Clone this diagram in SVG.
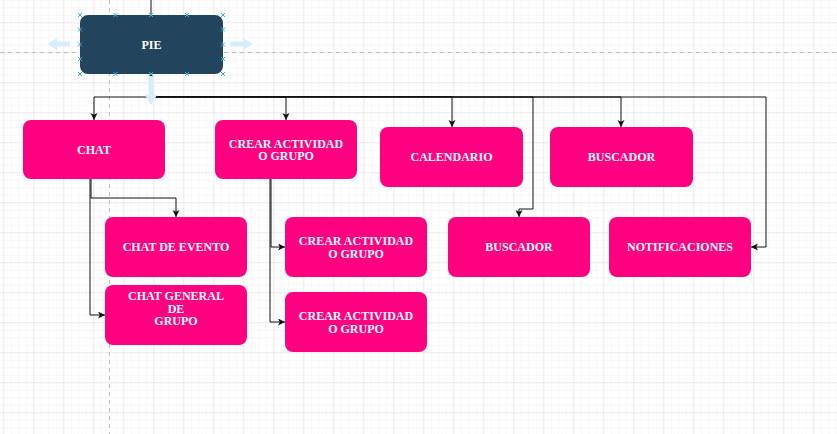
<svg xmlns="http://www.w3.org/2000/svg" width="837" height="434" viewBox="0 0 837 434">
  <style>
    .node { fill: #FF0080; }
    .pie { fill: #23445D; }
    .lbl { font-family: "Liberation Serif", "Times New Roman", serif; font-weight: bold; font-size: 12px; fill: #FFFFFF; text-anchor: middle; }
    .edge { fill: none; stroke: #111111; stroke-width: 1; }
    .sel { stroke: #29B6F2; stroke-width: 1; fill: none; }
    .hint { fill: #D6EEFC; }
  </style>
  <defs>
    <pattern id="minor" patternUnits="userSpaceOnUse" x="3.3" y="22.3" width="7.5" height="7.5">
      <path d="M0,0 H7.5 M0,0 V7.5" stroke="#F0F0F0" stroke-width="1" fill="none"/>
    </pattern>
    <pattern id="major" patternUnits="userSpaceOnUse" x="3.3" y="22.3" width="30" height="30">
      <path d="M0,0 H30 M0,0 V30" stroke="#E0E0E0" stroke-width="1" fill="none"/>
    </pattern>
    <marker id="arr" markerUnits="userSpaceOnUse" markerWidth="9" markerHeight="8" refX="7" refY="3.5" orient="auto">
      <path d="M0,0 L7,3.5 L0,7 L1.8,3.5 Z" fill="#111111"/>
    </marker>
  </defs>

  <g id="background">
    <rect x="0" y="0" width="837" height="434" fill="#FFFFFF"/>
    <rect x="0" y="0" width="837" height="434" fill="url(#minor)"/>
    <rect x="0" y="0" width="837" height="434" fill="url(#major)"/>
    <path d="M109.5,0 V434 M0,52.5 H837" stroke="#C0C0C0" stroke-width="1" stroke-dasharray="4,4" fill="none"/>
  </g>

  <g id="connectors">
    <path class="edge" d="M151,0 V15"/>
    <path class="edge" d="M151,74 V97 H94 V120" marker-end="url(#arr)"/>
    <path class="edge" d="M151,74 V97 H286 V120" marker-end="url(#arr)"/>
    <path class="edge" d="M151,74 V96.5 H452 V127" marker-end="url(#arr)"/>
    <path class="edge" d="M151,74 V97 H621 V127" marker-end="url(#arr)"/>
    <path class="edge" d="M151,74 V97 H533 V209 H519 V217" marker-end="url(#arr)"/>
    <path class="edge" d="M151,74 V97 H766 V247 H751" marker-end="url(#arr)"/>
    <path class="edge" d="M91,179 V198 H176 V217" marker-end="url(#arr)"/>
    <path class="edge" d="M90,179 V315 H105" marker-end="url(#arr)"/>
    <path class="edge" d="M271,179 V247 H285" marker-end="url(#arr)"/>
    <path class="edge" d="M270,179 V322 H285" marker-end="url(#arr)"/>
  </g>

  <g id="node-pie">
    <path class="hint" d="M70,41.5 H57 V38 L47,44 L57,50 V46.5 H70 Z"/>
    <path class="hint" d="M230,41.5 H243 V38 L253,44 L243,50 V46.5 H230 Z"/>
    <path class="hint" d="M148.5,76 V95 H145 L151,105 L157,95 H153.5 V76 Z"/>
    <rect class="pie" x="80" y="15" width="143" height="59" rx="8"/>
    <text class="lbl" x="151.5" y="49">PIE</text>
    <g class="sel">
      <path d="M78,13 l4,4 m0,-4 l-4,4 M113.5,13 l4,4 m0,-4 l-4,4 M149,13 l4,4 m0,-4 l-4,4 M185,13 l4,4 m0,-4 l-4,4 M221,13 l4,4 m0,-4 l-4,4"/>
      <path d="M78,72 l4,4 m0,-4 l-4,4 M113.5,72 l4,4 m0,-4 l-4,4 M149,72 l4,4 m0,-4 l-4,4 M185,72 l4,4 m0,-4 l-4,4 M221,72 l4,4 m0,-4 l-4,4"/>
      <path d="M78,27.5 l4,4 m0,-4 l-4,4 M78,42.5 l4,4 m0,-4 l-4,4 M78,57 l4,4 m0,-4 l-4,4"/>
      <path d="M221,27.5 l4,4 m0,-4 l-4,4 M221,42.5 l4,4 m0,-4 l-4,4 M221,57 l4,4 m0,-4 l-4,4"/>
    </g>
  </g>

  <g id="node-chat">
    <rect class="node" x="23" y="120" width="142" height="59" rx="8"/>
    <text class="lbl" x="94" y="154">CHAT</text>
  </g>
  <g id="node-crear-1">
    <rect class="node" x="215" y="120" width="142" height="59" rx="8"/>
    <text class="lbl" x="286" y="148">CREAR ACTIVIDAD</text>
    <text class="lbl" x="286" y="160">O GRUPO</text>
  </g>
  <g id="node-calendario">
    <rect class="node" x="380" y="127" width="143" height="60" rx="8"/>
    <text class="lbl" x="451.5" y="161">CALENDARIO</text>
  </g>
  <g id="node-buscador-1">
    <rect class="node" x="550" y="127" width="143" height="60" rx="8"/>
    <text class="lbl" x="621.5" y="161">BUSCADOR</text>
  </g>
  <g id="node-chat-evento">
    <rect class="node" x="105" y="217" width="142" height="60" rx="8"/>
    <text class="lbl" x="176" y="251">CHAT DE EVENTO</text>
  </g>
  <g id="node-chat-general">
    <rect class="node" x="105" y="285" width="142" height="60" rx="8"/>
    <text class="lbl" x="176" y="300">CHAT GENERAL</text>
    <text class="lbl" x="176" y="313">DE</text>
    <text class="lbl" x="176" y="325">GRUPO</text>
  </g>
  <g id="node-crear-2">
    <rect class="node" x="285" y="217" width="142" height="60" rx="8"/>
    <text class="lbl" x="356" y="245">CREAR ACTIVIDAD</text>
    <text class="lbl" x="356" y="258">O GRUPO</text>
  </g>
  <g id="node-crear-3">
    <rect class="node" x="285" y="292" width="142" height="60" rx="8"/>
    <text class="lbl" x="356" y="320">CREAR ACTIVIDAD</text>
    <text class="lbl" x="356" y="333">O GRUPO</text>
  </g>
  <g id="node-buscador-2">
    <rect class="node" x="448" y="217" width="142" height="60" rx="8"/>
    <text class="lbl" x="519" y="251">BUSCADOR</text>
  </g>
  <g id="node-notificaciones">
    <rect class="node" x="609" y="217" width="142" height="60" rx="8"/>
    <text class="lbl" x="680" y="251">NOTIFICACIONES</text>
  </g>
</svg>
